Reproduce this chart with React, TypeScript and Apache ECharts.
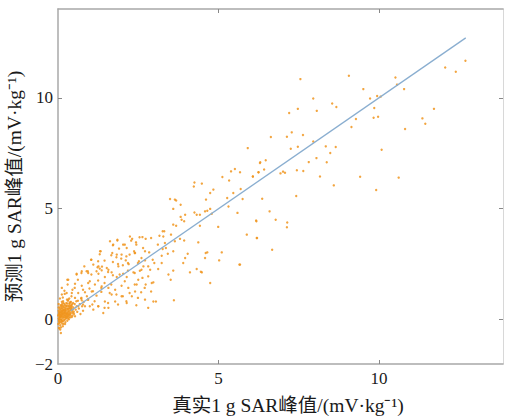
import React, { useEffect, useRef } from "react";
import * as echarts from "echarts";

// Tick labels
const xTickLabels = [0, 5, 10];
const xTicks = [5, 10];
const yTickLabels = [-2, 0, 5, 10];
const yTicks = [0, 5, 10];

const xName = "真实1 g SAR峰值/(mV·kg⁻¹)";
const yName = "预测1 g SAR峰值/(mV·kg⁻¹)";

// Reference line y = x
const refLine = [
  [0.4, 0.4],
  [12.7, 12.7],
];

// Scatter points [true, predicted]
const clusterPoints = [
  [0.02, 0.05], [0.05, 0.12], [0.08, 0.2], [0.1, 0.3], [0.12, 0.15], [0.15, 0.25], [0.18, 0.1], [0.2, 0.35],
  [0.22, 0.2], [0.25, 0.05], [0.28, 0.3], [0.3, 0.15], [0.33, 0.4], [0.35, 0.22], [0.38, 0.1], [0.4, 0.3],
  [0.42, 0.5], [0.45, 0.18], [0.03, 0.3], [0.06, 0.45], [0.09, 0.0], [0.11, -0.1], [0.14, 0.05], [0.16, 0.42],
  [0.19, 0.55], [0.21, 0.0], [0.24, 0.48], [0.27, 0.6], [0.29, -0.05], [0.32, 0.62], [0.36, 0.7], [0.04, -0.15],
  [0.07, -0.25], [0.1, 0.6], [0.13, 0.7], [0.17, -0.2], [0.23, -0.12], [0.26, 0.75], [0.31, 0.85], [0.34, 0.02],
  [0.37, 0.52], [0.41, 0.65], [0.44, 0.38], [0.48, 0.55], [0.5, 0.25], [0.52, 0.7], [0.55, 0.45], [0.01, 0.18],
  [0.02, 0.4], [0.03, -0.05], [0.05, 0.25], [0.06, 0.08], [0.08, 0.35], [0.09, 0.15], [0.11, 0.22], [0.12, 0.38],
  [0.14, 0.28], [0.16, 0.12], [0.18, 0.32], [0.2, 0.18], [0.21, 0.28], [0.23, 0.38], [0.25, 0.15], [0.27, 0.22],
  [0.3, 0.45], [0.33, 0.28], [0.36, 0.35], [0.39, 0.2], [0.43, 0.12], [0.46, 0.3], [0.05, 0.55], [0.08, 0.65],
  [0.12, 0.8], [0.15, -0.3], [0.04, -0.4], [0.09, -0.35], [0.09, -0.6], [0.12, 0.52], [0.22, 0.65], [0.28, 0.9],
  [0.35, 0.95], [0.4, 0.8], [0.58, 0.6], [0.6, 0.35], [0.62, 0.85], [0.65, 0.5], [0.68, 0.7], [0.7, 0.25],
  [0.72, 0.95], [0.75, 0.6], [0.78, 0.4], [0.8, 0.8], [0.06, 0.95], [0.15, 1.0], [0.02, 0.7], [0.01, -0.2],
  [0.07, -0.45], [0.13, -0.05], [0.19, 0.45], [0.24, 0.3], [0.26, 0.1], [0.31, 0.05], [0.38, 0.6], [0.47, 0.75],
  [0.53, 0.15], [0.03, -0.37], [0.1, 0.1], [0.17, 0.6], [0.29, 0.5], [0.06, 0.3], [0.14, 0.5], [0.32, 0.2],
  [0.04, 0.02], [0.07, 0.16], [0.1, 0.42], [0.13, 0.33], [0.16, 0.2], [0.19, 0.27], [0.22, 0.1], [0.25, 0.4],
  [0.28, 0.12], [0.31, 0.35], [0.34, 0.5], [0.37, 0.25], [0.4, 0.45], [0.43, 0.6], [0.46, 0.45], [0.49, 0.35],
  [0.02, 0.55], [0.05, 0.35], [0.08, 0.5], [0.11, 0.65], [0.14, 0.6], [0.17, 0.75], [0.2, 0.7], [0.23, 0.55],
  [0.26, 0.62], [0.29, 0.72], [0.32, 0.5], [0.35, 0.6], [0.38, 0.78], [0.41, 0.55], [0.44, 0.7], [0.04, -0.08],
  [0.07, -0.12], [0.1, -0.02], [0.13, -0.18], [0.16, -0.08], [0.19, -0.02], [0.22, -0.2], [0.02, 0.22], [0.06, 0.2],
  [0.1, 0.2], [0.14, 0.4], [0.18, 0.42], [0.22, 0.45], [0.26, 0.25], [0.3, 0.25], [0.34, 0.12], [0.38, 0.42],
];

const fanPoints = [
  [1.85, 3.6], [2.28, 3.56], [2.54, 3.71], [1.71, 3.35], [2.08, 3.38], [2.44, 3.38], [2.65, 3.23], [1.33, 3.08],
  [1.66, 2.9], [1.82, 2.81], [1.97, 2.75], [2.13, 2.85], [2.23, 2.93], [2.39, 3.0], [2.6, 2.78], [1.04, 2.7],
  [1.25, 2.63], [1.45, 2.66], [1.71, 2.6], [1.87, 2.51], [2.02, 2.45], [2.18, 2.55], [2.49, 2.55], [1.23, 2.36],
  [1.3, 2.3], [1.37, 2.39], [0.93, 2.18], [0.73, 2.1], [1.04, 2.03], [1.56, 2.15], [1.71, 2.0], [1.92, 2.03],
  [2.18, 2.21], [2.39, 2.1], [2.6, 2.25], [0.29, 1.8], [0.62, 1.8], [0.99, 1.73], [1.25, 1.76], [1.45, 1.65],
  [1.66, 1.58], [2.08, 1.73], [2.39, 1.58], [2.7, 1.43], [0.52, 1.43], [0.78, 1.35], [1.09, 1.28], [1.35, 1.43],
  [1.61, 1.2], [1.82, 1.13], [2.02, 1.05], [2.23, 1.2], [2.49, 0.98], [0.21, 1.16], [0.42, 1.05], [0.73, 0.98],
  [0.93, 0.9], [1.14, 0.83], [1.56, 0.75], [1.87, 0.68], [2.13, 0.83], [2.44, 0.65], [0.16, 0.83], [0.36, 0.75],
  [0.57, 0.83], [0.78, 0.68], [0.99, 0.6], [1.25, 0.6], [1.45, 0.53],
];

const lowPoints = [
  [0.58, 2.03], [0.89, 2.18], [1.26, 2.07], [1.46, 1.92], [1.67, 2.13], [1.83, 1.92], [2.03, 2.07], [2.14, 1.92],
  [2.35, 2.13], [2.5, 1.8], [2.63, 1.88], [2.81, 1.95], [2.92, 1.65], [2.73, 1.58], [2.45, 1.58], [0.32, 1.8],
  [0.3, 1.58], [0.53, 1.62], [0.74, 1.53], [0.94, 1.65], [1.15, 1.58], [1.36, 1.5], [1.57, 1.43], [1.78, 1.35],
  [1.98, 1.53], [2.19, 1.43], [2.4, 1.27], [1.67, 1.13], [1.98, 1.05], [2.3, 1.05], [2.59, 1.23], [2.71, 0.9],
  [2.97, 0.82], [1.46, 0.82], [1.78, 0.82], [2.14, 0.75], [1.41, 0.3], [1.57, 0.53], [1.26, 0.6], [0.12, 1.43],
  [0.12, 1.13], [0.27, 1.2], [0.43, 1.2], [0.63, 1.2], [0.84, 1.23], [1.05, 1.27], [1.2, 1.08], [0.94, 0.9],
  [0.74, 0.87], [0.53, 0.98], [0.32, 0.9], [1.07, 0.68], [0.84, 0.6], [0.63, 0.6], [2.81, 0.53], [3.61, 0.87],
  [3.05, 0.82], [2.9, 1.27], [0.2, 1.3], [0.45, 1.35], [0.9, 1.05], [1.1, 0.45], [0.98, 1.4], [1.35, 1.25],
];

const midPoints = [
  [2.63, 3.72], [2.73, 3.64], [2.31, 3.64], [2.43, 3.48], [1.85, 3.57], [2.03, 3.38], [2.14, 3.23], [1.72, 3.38],
  [1.69, 3.0], [1.83, 2.93], [1.98, 2.93], [2.11, 2.67], [1.31, 3.08], [1.03, 2.7], [1.1, 2.48], [1.26, 2.4],
  [1.36, 2.22], [1.52, 2.33], [1.57, 2.25], [2.37, 3.08], [2.4, 3.0], [2.71, 3.08], [2.84, 3.03], [2.52, 2.63],
  [2.71, 2.67], [2.81, 2.4], [2.66, 2.4], [0.82, 2.4], [0.74, 2.18], [0.94, 2.1], [0.58, 2.07], [1.2, 2.18],
  [1.88, 2.4], [2.87, 2.25], [1.62, 3.53], [2.24, 3.75], [1.3, 2.95], [1.9, 3.2], [2.2, 2.5], [2.55, 2.2],
  [3.64, 5.41], [3.82, 5.18], [3.59, 4.99], [3.96, 4.73], [3.82, 4.63], [3.93, 4.43], [4.25, 4.83], [4.32, 4.73],
  [4.58, 4.88], [4.65, 4.91], [4.74, 4.99], [4.79, 4.77], [5.31, 5.1], [5.59, 4.81], [6.17, 4.47], [3.68, 4.23],
  [3.31, 3.98], [3.16, 3.78], [2.9, 3.68], [3.28, 3.75], [3.52, 3.83], [3.64, 3.53], [3.8, 3.64], [3.93, 3.57],
  [3.33, 3.45], [3.11, 3.38], [3.26, 3.18], [3.36, 3.23], [3.42, 2.97], [3.23, 2.88], [3.59, 3.08], [2.95, 2.7],
  [3.0, 2.55], [3.23, 2.55], [4.04, 2.97], [4.58, 2.78], [4.65, 3.03], [5.1, 3.03], [5.02, 2.67], [4.37, 3.48],
  [4.42, 4.23], [4.99, 4.18], [5.88, 3.83], [6.19, 3.68], [3.9, 2.55], [3.96, 2.78], [5.65, 2.48], [4.32, 2.28],
  [4.48, 2.13], [4.11, 2.13], [3.59, 2.21], [3.12, 2.28], [3.44, 2.03], [3.51, 1.8], [2.97, 1.68], [4.74, 1.65],
  [3.26, 3.98], [3.59, 4.28], [3.85, 4.5], [4.42, 4.73], [6.18, 4.43], [6.59, 4.88], [6.78, 4.5], [7.14, 4.38],
  [7.13, 4.16], [6.2, 3.68], [6.67, 3.15], [5.67, 2.48], [4.6, 3.0], [4.45, 2.16],
];

const highPoints = [
  [5.91, 7.73], [6.29, 7.06], [5.39, 6.68], [5.51, 6.79], [5.67, 6.64], [5.12, 6.43], [5.33, 6.27], [6.07, 6.45],
  [6.24, 6.64], [4.25, 6.18], [4.23, 6.0], [4.48, 6.13], [4.84, 5.86], [4.74, 5.71], [5.69, 5.89], [5.46, 5.71],
  [5.27, 5.48], [5.75, 5.44], [3.49, 5.44], [3.68, 5.37], [4.61, 5.41], [7.55, 10.84], [9.06, 10.99], [10.51, 10.91],
  [12.06, 11.36], [12.69, 11.67], [12.39, 11.17], [9.51, 10.39], [10.78, 10.39], [10.56, 10.59], [9.72, 9.97], [9.94, 10.08],
  [10.05, 10.05], [7.95, 9.97], [8.54, 9.74], [8.67, 9.58], [7.47, 9.5], [7.2, 9.31], [8.06, 9.41], [9.85, 9.54],
  [11.71, 9.5], [9.83, 9.1], [9.97, 9.14], [11.35, 9.07], [11.44, 8.83], [9.28, 9.04], [9.14, 8.68], [10.81, 8.59],
  [6.63, 8.23], [7.13, 8.24], [7.28, 8.44], [7.63, 8.32], [7.95, 8.03], [8.34, 7.81], [8.65, 7.78], [7.47, 7.79],
  [7.25, 7.7], [8.48, 7.51], [10.08, 7.66], [8.05, 7.28], [7.81, 7.1], [8.37, 7.09], [6.47, 7.18], [6.3, 7.09],
  [6.42, 6.77], [6.25, 6.64], [6.07, 6.45], [6.93, 6.59], [7.01, 6.67], [7.07, 6.62], [7.44, 6.73], [7.64, 6.7],
  [8.16, 6.45], [9.41, 6.44], [10.61, 6.4], [8.59, 6.05], [9.91, 5.84], [7.42, 5.57], [6.36, 5.45],
];

const scatterData = [...clusterPoints, ...fanPoints, ...lowPoints, ...midPoints, ...highPoints];

const FONT = "'Liberation Serif', 'Noto Sans CJK SC', serif";
const AXIS_COLOR = "#a8a8a8";

export default function App() {
  const ref = useRef<HTMLDivElement>(null);

  useEffect(() => {
    if (!ref.current) return;
    const chart = echarts.init(ref.current, undefined, { renderer: "svg" });
    const labelFmt = (v: number) => (v < 0 ? "−" + Math.abs(v) : String(v));
    const baseX = {
      type: "value" as const,
      min: 0,
      max: 13.86,
      splitLine: { show: false },
      axisLine: { show: true, onZero: false, lineStyle: { color: AXIS_COLOR, width: 1.5 } },
      axisTick: { show: true, inside: true, length: 4, customValues: xTicks, lineStyle: { color: "#888" } },
    };
    const baseY = {
      type: "value" as const,
      min: -2,
      max: 14,
      splitLine: { show: false },
      axisLine: { show: true, onZero: false, lineStyle: { color: AXIS_COLOR, width: 1.5 } },
      axisTick: { show: true, inside: true, length: 4, customValues: yTicks, lineStyle: { color: "#888" } },
    };
    chart.setOption({
      animation: false,
      backgroundColor: "#ffffff",
      grid: { left: 58, right: 3, top: 9, bottom: 56, outerBoundsMode: "none" },
      xAxis: [
        {
          ...baseX,
          position: "bottom",
          axisLabel: {
            customValues: xTickLabels,
            formatter: labelFmt,
            fontFamily: FONT,
            fontSize: 17,
            color: "#1a1a1a",
            margin: 6,
          },
          name: xName,
          nameLocation: "middle",
          nameGap: 32,
          nameTextStyle: { fontFamily: FONT, fontSize: 19.5, color: "#1a1a1a", padding: [0, 0, 0, 15] },
        },
        {
          ...baseX,
          position: "top",
          axisLabel: { show: false },
        },
      ],
      yAxis: [
        {
          ...baseY,
          position: "left",
          axisLabel: {
            customValues: yTickLabels,
            formatter: labelFmt,
            fontFamily: FONT,
            fontSize: 17,
            color: "#1a1a1a",
            margin: 5,
          },
          name: yName,
          nameLocation: "middle",
          nameGap: 29,
          nameRotate: 90,
          nameTextStyle: { fontFamily: FONT, fontSize: 19.5, color: "#1a1a1a" },
        },
        {
          ...baseY,
          position: "right",
          axisLine: { show: true, onZero: false, lineStyle: { color: "#d8d8d8", width: 1 } },
          axisLabel: { show: false },
        },
      ],
      series: [
        {
          type: "scatter",
          data: scatterData,
          symbol: "circle",
          symbolSize: 2.4,
          itemStyle: { color: "#f0951e", opacity: 0.85 },
          silent: true,
        },
        {
          type: "line",
          data: refLine,
          symbol: "none",
          lineStyle: { color: "#8aaed0", width: 1.3 },
          silent: true,
        },
      ],
    });
    return () => chart.dispose();
  }, []);

  return (
    <div
      ref={ref}
      style={{ position: "absolute", left: 0, top: 0, width: 506, height: 420 }}
    />
  );
}
